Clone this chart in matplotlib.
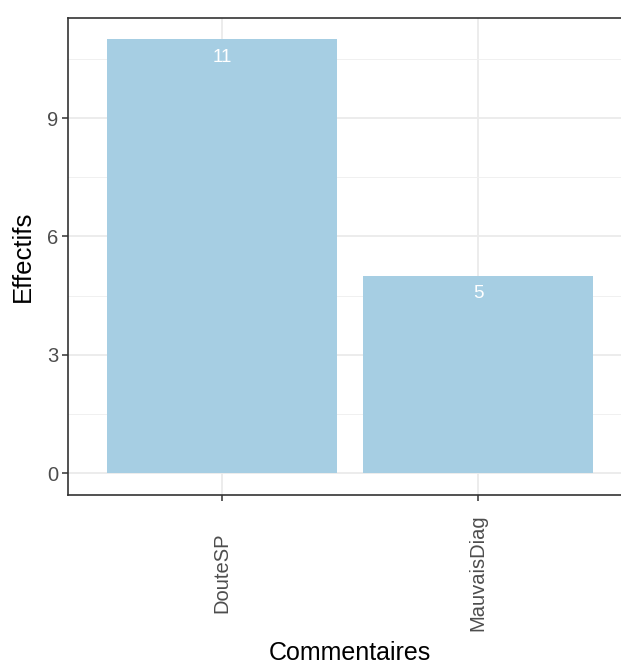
import matplotlib
matplotlib.use("Agg")
import matplotlib.pyplot as plt
from matplotlib.ticker import FixedLocator

categories = ["DouteSP", "MauvaisDiag"]
counts = [11, 5]
yticks = [0, 3, 6, 9]
yminor = [1.5, 4.5, 7.5, 10.5]

plt.rcParams['font.family'] = ['Liberation Sans', 'DejaVu Sans']

W, H = 621, 664
fig = plt.figure(figsize=(W/100, H/100), dpi=100)
# panel extends past the right edge (cropped reference)
left_px, right_px, top_px, bot_px = 68.4, 631.6, 17.5, 494.7
ax = fig.add_axes([left_px/W, 1 - bot_px/H, (right_px-left_px)/W, (bot_px-top_px)/H])

x = list(range(1, len(categories)+1))
ax.bar(x, counts, width=0.9, color="#A6CEE3", zorder=2)
for xi, v in zip(x, counts):
    ax.annotate(str(v), xy=(xi, v), xytext=(0, -13), textcoords='offset points',
                ha='center', va='center', color='white', fontsize=13.5)

ax.set_xlim(0.4, 2.6)
ax.set_ylim(-0.55, 11.55)
ax.set_yticks(yticks)
ax.yaxis.set_minor_locator(FixedLocator(yminor))
ax.set_xticks(x)
ax.set_xticklabels(categories, rotation=90, va='center', ha='center')

ax.grid(which='major', color='#EBEBEB', lw=1.3, zorder=0)
ax.grid(which='minor', axis='y', color='#F0F0F0', lw=0.7, zorder=0)
ax.set_axisbelow(True)

for s in ax.spines.values():
    s.set_color('#333333')
    s.set_linewidth(1.2)

ax.tick_params(axis='both', which='major', colors='#333333', length=4.5, width=1.1,
               labelsize=14.5, labelcolor='#4D4D4D')
ax.tick_params(axis='y', which='major', pad=3)
ax.tick_params(axis='x', which='major', pad=52)
ax.tick_params(which='minor', length=0)

ax.set_ylabel("Effectifs", fontsize=18.5, color='black', labelpad=8.5)
ax.set_xlabel("Commentaires", fontsize=18, color='black', labelpad=7)

fig.savefig("out.png", dpi=100)
